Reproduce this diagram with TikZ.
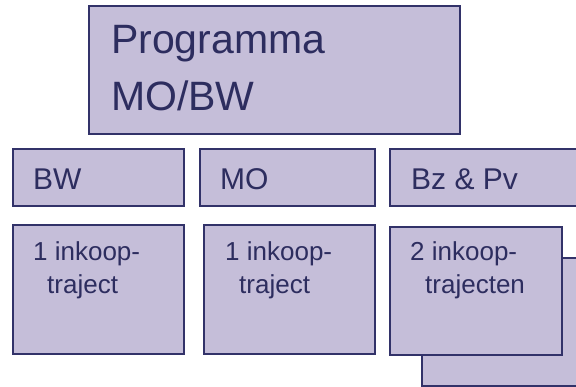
\documentclass[tikz,border=0pt]{standalone}
\usepackage{fontspec}
\setmainfont{Liberation Sans}
\definecolor{boxfill}{RGB}{197,190,217}
\definecolor{boxline}{RGB}{50,50,105}
\definecolor{txt}{RGB}{45,45,95}
\begin{document}
\begin{tikzpicture}[x=1pt,y=-1pt,
  box/.style={draw=boxline,fill=boxfill,line width=1.5pt,inner sep=0pt,anchor=north west},
  lbl/.style={anchor=base west,inner sep=0pt,text=txt},
  big/.style={lbl,font=\fontsize{41}{57}\selectfont},
  mid/.style={lbl,font=\fontsize{30}{36}\selectfont},
  small/.style={lbl,font=\fontsize{26}{37}\selectfont}]
\useasboundingbox (0,0) rectangle (576,386);
% top
\node[box,minimum width=371pt,minimum height=128pt] (top) at (88,5) {};
\node[big] (t1) at (111,53) {Programma};
\node[big] (t2) at (111,110) {MO/BW};
% row 2
\node[box,minimum width=171pt,minimum height=57pt] (bw) at (12,148) {};
\node[box,minimum width=175pt,minimum height=57pt] (mo) at (199,148) {};
\node[box,minimum width=191pt,minimum height=57pt] (bz) at (389,148) {};
\node[mid] (bwt) at (33,189) {BW};
\node[mid] (mot) at (220,189) {MO};
\node[mid] (bzt) at (411,189) {Bz \& Pv};
% row 3
\node[box,minimum width=171pt,minimum height=129pt] (r1) at (12,224) {};
\node[box,minimum width=171pt,minimum height=129pt] (r2) at (203,224) {};
\node[box,minimum width=159pt,minimum height=128pt] (r3b) at (421,257) {};
\node[box,minimum width=172pt,minimum height=128pt] (r3) at (389,226) {};
\node[small] (a1) at (33,260) {1 inkoop-};
\node[small] (a2) at (47,293) {traject};
\node[small] (b1) at (225,260) {1 inkoop-};
\node[small] (b2) at (239,293) {traject};
\node[small] (c1) at (410,260) {2 inkoop-};
\node[small] (c2) at (425,293) {trajecten};
\end{tikzpicture}
\end{document}
